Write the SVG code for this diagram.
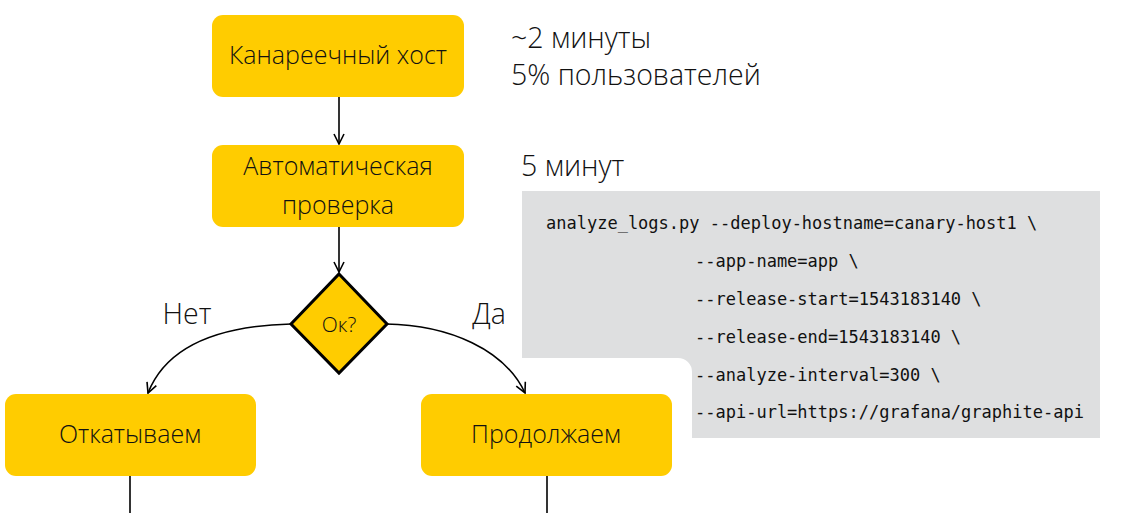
<svg xmlns="http://www.w3.org/2000/svg" width="1127" height="513" viewBox="0 0 1127 513">
<style>
.node{fill:#FFCC00;}
.nt{font-family:"Open Sans","Noto Sans","Liberation Sans",sans-serif;font-weight:300;font-size:25px;fill:#111;text-anchor:middle;}
.lbl{font-family:"Open Sans","Noto Sans","Liberation Sans",sans-serif;font-weight:300;font-size:28.5px;fill:#111;}
.code{font-family:"DejaVu Sans Mono","Liberation Mono",monospace;font-size:17px;fill:#111;}
.conn{fill:none;stroke:#000;stroke-width:1.6;}
</style>
<defs>
<marker id="arr" viewBox="0 0 12 12" refX="11" refY="6" markerWidth="12" markerHeight="12" markerUnits="userSpaceOnUse" orient="auto">
<polyline points="1,1 11,6 1,11" fill="none" stroke="#000" stroke-width="1.6"/>
</marker>
</defs>
<rect width="1127" height="513" fill="#fff"/>
<g id="codebox">
<path d="M522,191 H1100 V438 H692 V372 A14,14 0 0 0 678,358 H522 Z" fill="#DEDFE0"/>
<text class="code" x="546" y="229">analyze_logs.py --deploy-hostname=canary-host1 \</text>
<text class="code" x="695" y="267">--app-name=app \</text>
<text class="code" x="695" y="305">--release-start=1543183140 \</text>
<text class="code" x="695" y="343">--release-end=1543183140 \</text>
<text class="code" x="695" y="381">--analyze-interval=300 \</text>
<text class="code" x="695" y="418">--api-url=https://grafana/graphite-api</text>
</g>
<g id="notes">
<text class="lbl" x="511" y="48">~2 минуты</text>
<text class="lbl" x="511" y="85">5% пользователей</text>
<text class="lbl" x="521" y="176">5 минут</text>
</g>
<g id="connectors">
<line class="conn" x1="339" y1="97" x2="339" y2="144" marker-end="url(#arr)"/>
<line class="conn" x1="339" y1="227" x2="339" y2="272" marker-end="url(#arr)"/>
<path class="conn" d="M291,324 C210,326 165,350 148,393" marker-end="url(#arr)"/>
<path class="conn" d="M386,324 C450,325 505,350 525,393" marker-end="url(#arr)"/>
<line class="conn" x1="130" y1="476" x2="130" y2="513"/>
<line class="conn" x1="547" y1="476" x2="547" y2="513"/>
<text class="lbl" x="187" y="324" text-anchor="middle">Нет</text>
<text class="lbl" x="489" y="324" text-anchor="middle">Да</text>
</g>
<g id="n1">
<rect class="node" x="212" y="15" width="252" height="82" rx="11"/>
<text class="nt" x="338" y="64">Канареечный хост</text>
</g>
<g id="n2">
<rect class="node" x="212" y="145" width="252" height="82" rx="11"/>
<text class="nt" x="338" y="175">Автоматическая</text>
<text class="nt" x="338" y="214">проверка</text>
</g>
<g id="n3">
<polygon points="339,274 387,324 339,373 291,324" fill="#FFCC00" stroke="#000" stroke-width="3" stroke-linejoin="miter"/>
<text class="nt" x="339" y="332" style="font-size:21px">Ок?</text>
</g>
<g id="n4">
<rect class="node" x="5" y="394" width="251" height="82" rx="11"/>
<text class="nt" x="130" y="443">Откатываем</text>
</g>
<g id="n5">
<rect class="node" x="421" y="394" width="251" height="82" rx="11"/>
<text class="nt" x="546" y="443">Продолжаем</text>
</g>
</svg>
